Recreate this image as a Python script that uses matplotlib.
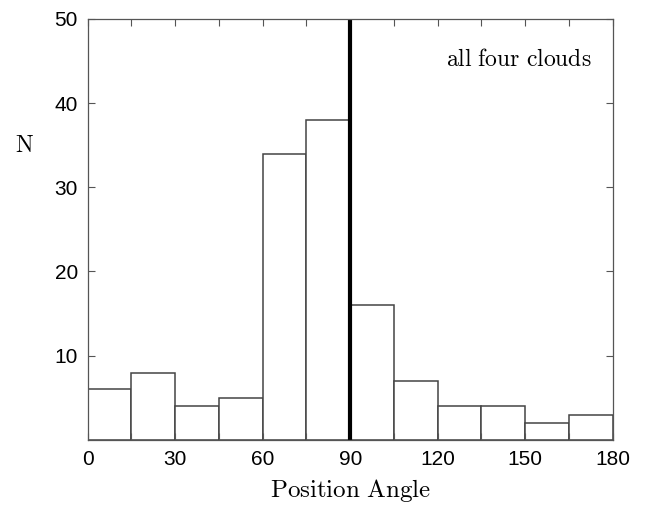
import numpy as np
import matplotlib
matplotlib.use("Agg")
import matplotlib.pyplot as plt
from matplotlib.ticker import MultipleLocator

plt.rcParams["mathtext.fontset"] = "cm"

# histogram data: position angle bins (deg) and counts
BIN_EDGES = [0, 15, 30, 45, 60, 75, 90, 105, 120, 135, 150, 165, 180]
COUNTS = [6, 8, 4, 5, 34, 38, 16, 7, 4, 4, 2, 3]
MARKER_ANGLE = 90

fig = plt.figure(figsize=(6.45, 5.08), dpi=100)
ax = fig.add_axes([0.136, 0.134, 0.814, 0.829])

edges = np.array(BIN_EDGES)
ax.bar(edges[:-1], COUNTS, width=np.diff(edges), align="edge",
       facecolor="white", edgecolor="#444444", linewidth=1.1)
ax.axvline(MARKER_ANGLE, color="black", linewidth=3)

ax.set_xlim(0, 180)
ax.set_ylim(0, 50)
ax.xaxis.set_major_locator(MultipleLocator(30))
ax.xaxis.set_minor_locator(MultipleLocator(15))
ax.set_yticks([10, 20, 30, 40, 50])
ax.tick_params(which="both", direction="in", top=True, right=True,
               length=5, width=0.8, color="#555555")
ax.tick_params(labelsize=15, pad=7)
for lab in ax.get_xticklabels() + ax.get_yticklabels():
    lab.set_family("Liberation Sans")
for s in ax.spines.values():
    s.set_color("#555555")
    s.set_linewidth(0.9)

ax.set_xlabel(r"$\mathrm{Position\ Angle}$", fontsize=18)
ax.xaxis.set_label_coords(0.5, -0.088)
ax.set_ylabel(r"$\mathrm{N}$", fontsize=17, rotation=0, va="center")
ax.yaxis.set_label_coords(-0.12, 0.70)
ax.text(0.96, 0.905, r"$\mathrm{all\ four\ clouds}$", transform=ax.transAxes,
        ha="right", va="center", fontsize=17)

fig.savefig("out.png", dpi=100)
